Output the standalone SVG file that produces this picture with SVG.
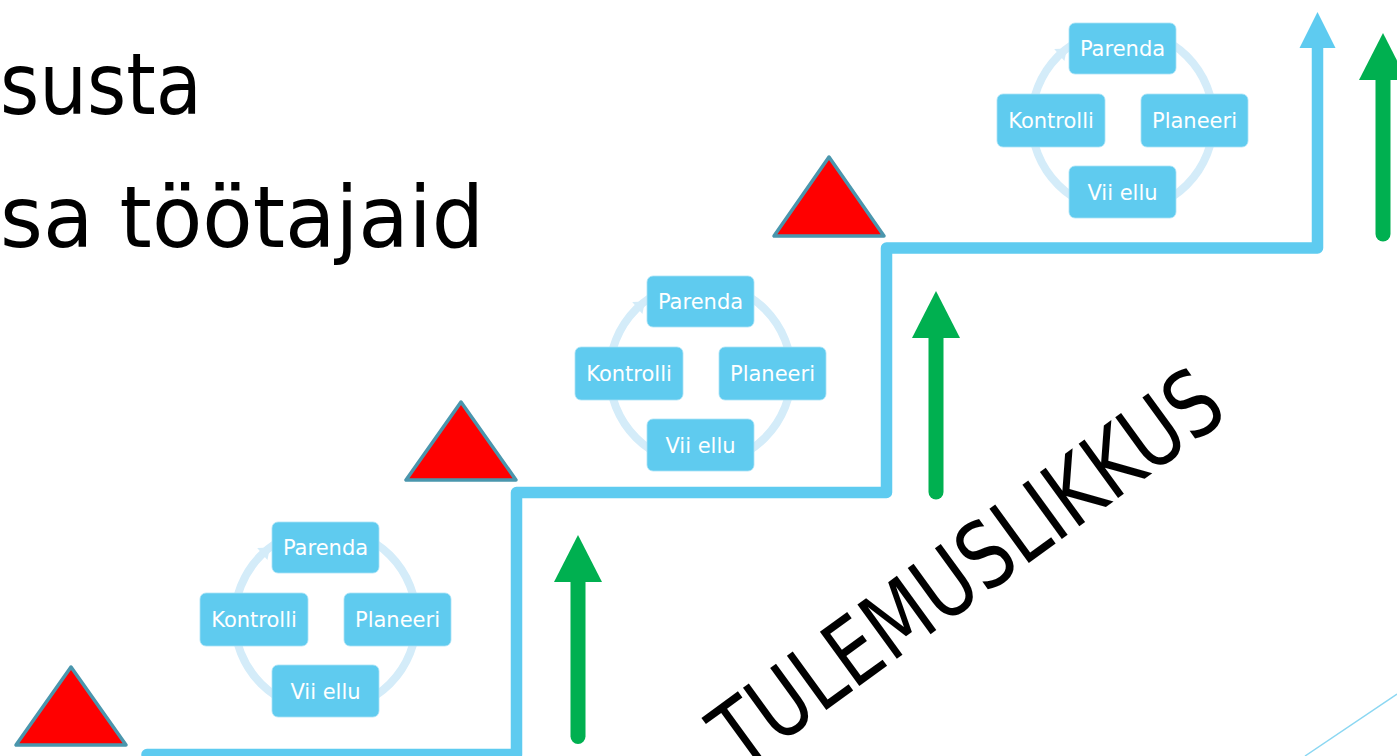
<svg xmlns="http://www.w3.org/2000/svg" width="1397" height="756" viewBox="0 0 1397 756">
<style>
.title{font-family:"DejaVu Sans",sans-serif;font-size:86px;fill:#000}
.box{fill:#5fcbef;stroke:#a9e2f6;stroke-width:0.8}
.lbl{font-family:"DejaVu Sans",sans-serif;font-size:21px;fill:#fff;text-anchor:middle}
.ring{fill:none;stroke:#d4ecf9;stroke-width:8}
.ringhead{fill:#d4ecf9}
.tri{fill:#ff0000;stroke:#4a96ad;stroke-width:3.5;stroke-linejoin:round}
.stair{fill:none;stroke:#5ecbf0;stroke-width:11.5;stroke-linejoin:round;stroke-linecap:round}
.green{stroke:#00b050;stroke-width:15;stroke-linecap:round}
.ghead{fill:#00b050}
</style>
<rect width="1397" height="756" fill="#fff"/>
<text class="title" x="0" y="114" textLength="202" lengthAdjust="spacingAndGlyphs">susta</text>
<text class="title" x="0" y="247" textLength="484" lengthAdjust="spacingAndGlyphs">sa töötajaid</text>

<g id="connectors">
  <g id="ring1">
    <circle class="ring" cx="325.5" cy="619.5" r="91"/>
    <polygon class="ringhead" points="270,547.6 257.2,547.9 267.4,560.1"/>
  </g>
  <g id="ring2" transform="translate(375,-246)">
    <circle class="ring" cx="325.5" cy="619.5" r="91"/>
    <polygon class="ringhead" points="270,547.6 257.2,547.9 267.4,560.1"/>
  </g>
  <g id="ring3" transform="translate(797,-499)">
    <circle class="ring" cx="325.5" cy="619.5" r="91"/>
    <polygon class="ringhead" points="270,547.6 257.2,547.9 267.4,560.1"/>
  </g>
  <g id="staircase">
    <path class="stair" d="M147,754.5 L516.5,754.5 L516.5,492.5 L886.5,492.5 L886.5,248 L1317.5,248 L1317.5,44"/>
    <polygon fill="#5ecbf0" points="1317.5,12 1335.5,48 1299.5,48"/>
  </g>
  <g id="green-arrow-1">
    <line class="green" x1="578" y1="736.5" x2="578" y2="578"/>
    <polygon class="ghead" points="578,535 602,582 554,582"/>
  </g>
  <g id="green-arrow-2">
    <line class="green" x1="936" y1="492" x2="936" y2="334"/>
    <polygon class="ghead" points="936,291 960,338 912,338"/>
  </g>
  <g id="green-arrow-3">
    <line class="green" x1="1383" y1="234" x2="1383" y2="76"/>
    <polygon class="ghead" points="1383,33 1407,80 1359,80"/>
  </g>
  <line x1="1305" y1="756" x2="1397" y2="694" stroke="#8bd7f2" stroke-width="1.5"/>
</g>

<g id="triangle-1"><polygon class="tri" points="71,667 16,745 126,745"/></g>
<g id="triangle-2"><polygon class="tri" points="461,402 406,480 516,480"/></g>
<g id="triangle-3"><polygon class="tri" points="829,157 774,236 884,236"/></g>

<g id="cycle-1">
  <g id="c1-parenda"><rect class="box" x="272" y="522" width="107" height="51" rx="6"/><text class="lbl" x="325.5" y="555">Parenda</text></g>
  <g id="c1-kontrolli"><rect class="box" x="200" y="593" width="108" height="53" rx="6"/><text class="lbl" x="254" y="627">Kontrolli</text></g>
  <g id="c1-planeeri"><rect class="box" x="344" y="593" width="107" height="53" rx="6"/><text class="lbl" x="397.5" y="627">Planeeri</text></g>
  <g id="c1-viiellu"><rect class="box" x="272" y="665" width="107" height="52" rx="6"/><text class="lbl" x="325.5" y="698.5">Vii ellu</text></g>
</g>
<g id="cycle-2" transform="translate(375,-246)">
  <g id="c2-parenda"><rect class="box" x="272" y="522" width="107" height="51" rx="6"/><text class="lbl" x="325.5" y="555">Parenda</text></g>
  <g id="c2-kontrolli"><rect class="box" x="200" y="593" width="108" height="53" rx="6"/><text class="lbl" x="254" y="627">Kontrolli</text></g>
  <g id="c2-planeeri"><rect class="box" x="344" y="593" width="107" height="53" rx="6"/><text class="lbl" x="397.5" y="627">Planeeri</text></g>
  <g id="c2-viiellu"><rect class="box" x="272" y="665" width="107" height="52" rx="6"/><text class="lbl" x="325.5" y="698.5">Vii ellu</text></g>
</g>
<g id="cycle-3" transform="translate(797,-499)">
  <g id="c3-parenda"><rect class="box" x="272" y="522" width="107" height="51" rx="6"/><text class="lbl" x="325.5" y="555">Parenda</text></g>
  <g id="c3-kontrolli"><rect class="box" x="200" y="593" width="108" height="53" rx="6"/><text class="lbl" x="254" y="627">Kontrolli</text></g>
  <g id="c3-planeeri"><rect class="box" x="344" y="593" width="107" height="53" rx="6"/><text class="lbl" x="397.5" y="627">Planeeri</text></g>
  <g id="c3-viiellu"><rect class="box" x="272" y="665" width="107" height="52" rx="6"/><text class="lbl" x="325.5" y="698.5">Vii ellu</text></g>
</g>

<text class="title" style="font-size:92px" transform="translate(741,772) rotate(-36)" x="0" y="0" textLength="605" lengthAdjust="spacingAndGlyphs">TULEMUSLIKKUS</text>
</svg>
